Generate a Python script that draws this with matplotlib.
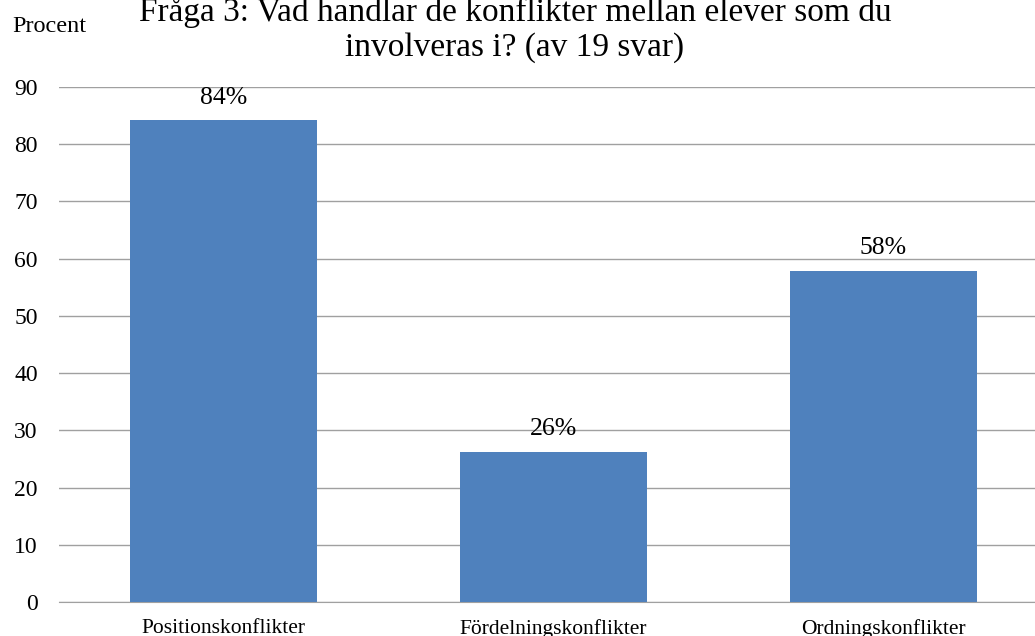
import matplotlib.pyplot as plt

plt.rcParams['font.family'] = ['Liberation Serif', 'DejaVu Serif']

categories = ['Positionskonflikter', 'Fördelningskonflikter', 'Ordningskonflikter']
values = [84.2, 26.3, 57.9]
labels = ['84%', '26%', '58%']
yticks = [0, 10, 20, 30, 40, 50, 60, 70, 80, 90]

fig = plt.figure(figsize=(10.35, 6.36), dpi=100)
ax = fig.add_axes([58.5 / 1035, 1 - 602 / 636, 990 / 1035, 515 / 636])

x = range(len(categories))
bars = ax.bar(x, values, width=0.567, color='#4f81bd', zorder=3)
for b, lab in zip(bars, labels):
    ax.annotate(lab, (b.get_x() + b.get_width() / 2, b.get_height()),
                xytext=(0, 12), textcoords='offset points',
                ha='center', va='baseline', fontsize=18.5, zorder=4)

ax.set_xlim(-0.5, 2.5)
ax.set_ylim(0, 90)
ax.set_yticks(yticks)
ax.set_xticks(list(x))
ax.set_xticklabels(categories, fontsize=15.5)
ax.tick_params(axis='y', labelsize=17, length=0, pad=15)
ax.tick_params(axis='x', length=0, pad=12)
ax.grid(axis='y', color='#a0a0a0', linewidth=1, zorder=0)
for s in ['left', 'right', 'top']:
    ax.spines[s].set_visible(False)
ax.spines['bottom'].set_color('#a0a0a0')

fig.text(515 / 1035, 1 - 21 / 636, 'Fråga 3: Vad handlar de konflikter mellan elever som du',
         ha='center', va='baseline', fontsize=24)
fig.text(515 / 1035, 1 - 56 / 636, 'involveras i? (av 19 svar)',
         ha='center', va='baseline', fontsize=24)
fig.text(12 / 1035, 1 - 27 / 636, 'Procent', ha='left', va='center', fontsize=17.5)

fig.savefig('out.png', dpi=100)
